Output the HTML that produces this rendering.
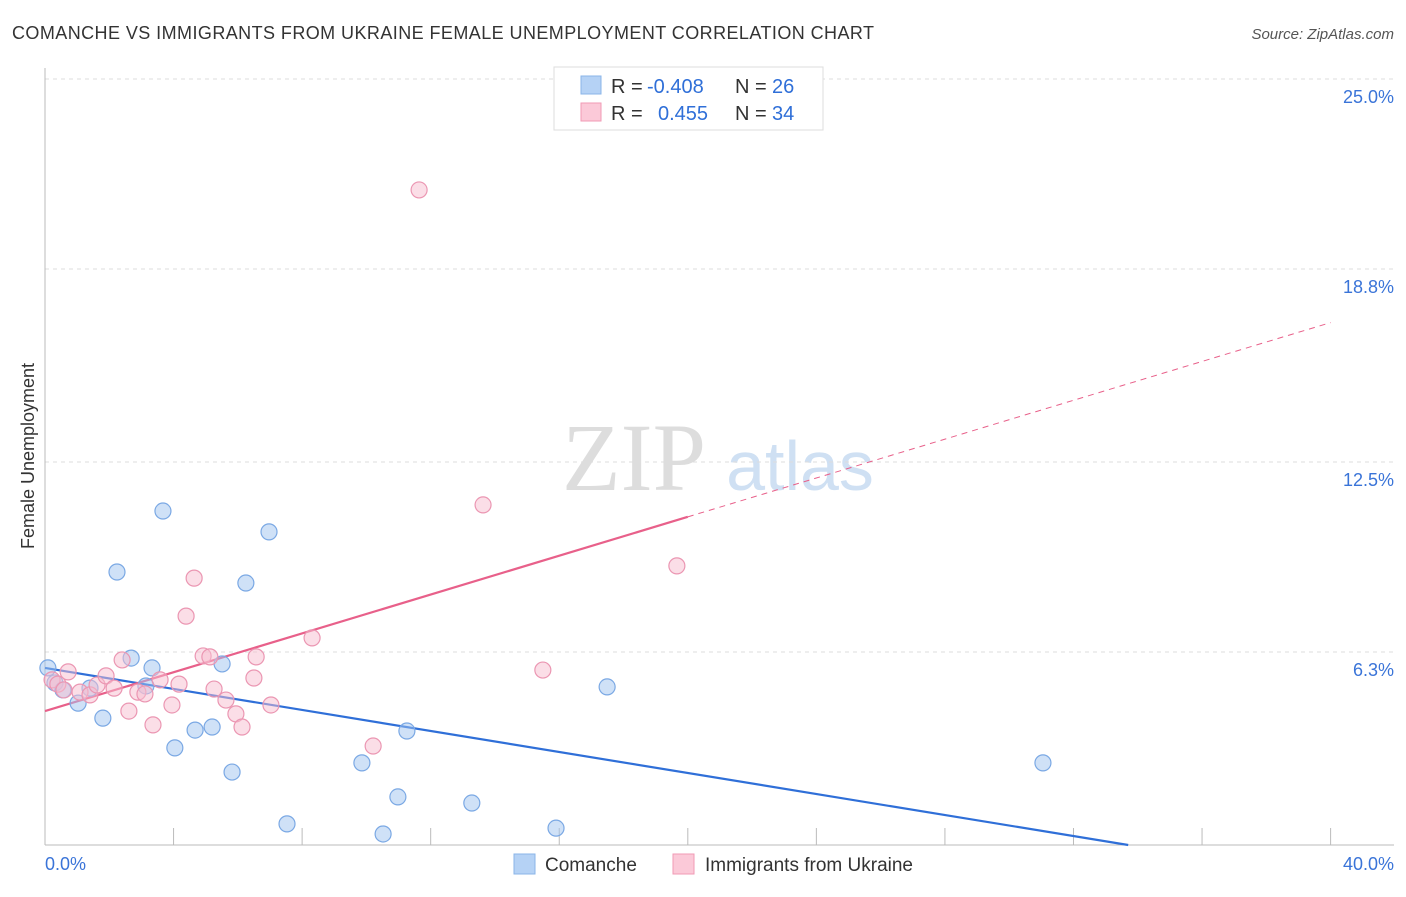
<!DOCTYPE html>
<html><head><meta charset="utf-8"><style>
body{margin:0;background:#fff;font-family:"Liberation Sans",sans-serif;}
</style></head><body>
<svg id="c" width="1406" height="892" xmlns="http://www.w3.org/2000/svg">
<text x="12" y="39" font-size="18" fill="#333" textLength="862">COMANCHE VS IMMIGRANTS FROM UKRAINE FEMALE UNEMPLOYMENT CORRELATION CHART</text>
<text x="1394" y="39" font-size="15" fill="#555" text-anchor="end" font-style="italic">Source: ZipAtlas.com</text>
<text x="634" y="490" font-size="96" fill="#ddd" font-family="Liberation Serif,serif" text-anchor="middle">ZIP</text>
<text x="800" y="490" font-size="70" fill="#cfe0f3" text-anchor="middle">atlas</text>
<text transform="translate(34,456) rotate(-90)" font-size="18" fill="#333" text-anchor="middle">Female Unemployment</text>
<g id="grid"></g><g id="lines"></g><g id="pts"></g>
<g>
<rect x="554" y="67" width="269" height="63" fill="#fff" stroke="#ddd"/>
<rect x="581" y="76" width="20" height="18" fill="#b5d2f5" stroke="#8ab4e8"/>
<rect x="581" y="103" width="20" height="18" fill="#fbc9d8" stroke="#f09ab5"/>
<text x="611" y="93" font-size="20" fill="#333">R =</text>
<text x="647" y="93" font-size="20" fill="#2f6fd8">-0.408</text>
<text x="735" y="93" font-size="20" fill="#333">N =</text>
<text x="772" y="93" font-size="20" fill="#2f6fd8">26</text>
<text x="611" y="120" font-size="20" fill="#333">R =</text>
<text x="658" y="120" font-size="20" fill="#2f6fd8">0.455</text>
<text x="735" y="120" font-size="20" fill="#333">N =</text>
<text x="772" y="120" font-size="20" fill="#2f6fd8">34</text>
</g>
<g>
<rect x="514" y="854" width="21" height="20" fill="#b5d2f5" stroke="#8ab4e8"/>
<text x="545" y="871" font-size="19" fill="#333">Comanche</text>
<rect x="673" y="854" width="21" height="20" fill="#fbc9d8" stroke="#f09ab5"/>
<text x="705" y="871" font-size="19" fill="#333">Immigrants from Ukraine</text>
</g>
</svg>
<script>
const yTicks=[25,18.8,12.5,6.3];
const yTickLabels=["25.0%","18.8%","12.5%","6.3%"];
const xTickLabels=["0.0%","40.0%"];
const blueX=[0.09,0.31,0.56,1.03,1.40,1.80,2.24,2.68,3.14,3.33,3.67,4.04,4.67,5.20,5.51,5.82,6.25,6.97,7.53,9.86,10.52,10.98,11.26,13.28,15.90,17.49,31.05];
const blueY=[5.78,5.29,5.06,4.63,5.12,4.14,8.91,6.10,5.19,5.78,10.90,3.17,3.75,3.85,5.91,2.38,8.55,10.22,0.69,2.68,0.36,1.57,3.72,1.37,0.55,5.16,2.68];
const pinkX=[0.22,0.40,0.59,0.72,1.09,1.40,1.62,1.90,2.15,2.40,2.61,2.89,3.11,3.36,3.58,3.95,4.17,4.39,4.64,4.92,5.13,5.26,5.63,5.94,6.13,6.50,6.57,7.03,8.31,10.21,11.64,13.63,15.49,19.66];
const pinkY=[5.39,5.25,5.06,5.65,4.99,4.90,5.22,5.52,5.12,6.04,4.37,4.99,4.93,3.92,5.39,4.57,5.25,7.47,8.71,6.17,6.14,5.09,4.73,4.28,3.85,5.45,6.14,4.57,6.76,3.23,21.38,11.10,5.71,9.11];
const blueTrend=[5.78,-0.1715];
const pinkTrend=[4.37,0.317];
const NS="http://www.w3.org/2000/svg";
const X=v=>45+v*32.14, Y=v=>845-v*30.64;
function mk(tag,a,p){const e=document.createElementNS(NS,tag);for(const k in a)e.setAttribute(k,a[k]);p.appendChild(e);return e;}
const g=document.getElementById('grid');
yTicks.forEach((t,i)=>{
 const l=mk('line',{x1:45,x2:1394,y1:Y(t),y2:Y(t),stroke:'#ddd','stroke-dasharray':'4,4'},g);
 
 
 const tx=mk('text',{x:1394,y:Y(t)+24,'font-size':18,fill:'#3a74d8','text-anchor':'end'},g);
 tx.textContent=yTickLabels[i];
 
 
});
mk('line',{x1:45,x2:45,y1:68,y2:845,stroke:'#bbb'},g);
mk('line',{x1:45,x2:1394,y1:845,y2:845,stroke:'#bbb'},g);
for(let i=0;i<=10;i++){const t=mk('line',{x1:X(i*4),x2:X(i*4),y1:828,y2:845,stroke:'#bbb'},g);
 
 }
[[0,45,'start'],[40,1394,'end']].forEach((d,i)=>{const t=mk('text',{x:d[1],y:870,'font-size':18,fill:'#3a74d8','text-anchor':d[2]},g);t.textContent=xTickLabels[i];
 
 });
const L=document.getElementById('lines');
const bEnd=-blueTrend[0]/blueTrend[1];
const bl=mk('line',{x1:X(0),y1:Y(blueTrend[0]),x2:X(bEnd),y2:Y(0),stroke:'#2f6fd8','stroke-width':2.2},L);


const pl=mk('line',{x1:X(0),y1:Y(pinkTrend[0]),x2:X(20),y2:Y(pinkTrend[0]+20*pinkTrend[1]),stroke:'#e8608a','stroke-width':2.2},L);


const pd=mk('line',{x1:X(20),y1:Y(pinkTrend[0]+20*pinkTrend[1]),x2:X(40),y2:Y(pinkTrend[0]+40*pinkTrend[1]),stroke:'#e8608a','stroke-width':1,'stroke-dasharray':'6,5'},L);


const P=document.getElementById('pts');
blueX.forEach((x,i)=>{const c=mk('circle',{cx:X(x),cy:Y(blueY[i]),r:8,fill:'rgba(160,196,240,0.5)',stroke:'#7aa8e4','stroke-width':1.2},P);
 
 });
pinkX.forEach((x,i)=>{const c=mk('circle',{cx:X(x),cy:Y(pinkY[i]),r:8,fill:'rgba(248,190,208,0.5)',stroke:'#eb96b2','stroke-width':1.2},P);
 
 });
</script>
</body></html>
